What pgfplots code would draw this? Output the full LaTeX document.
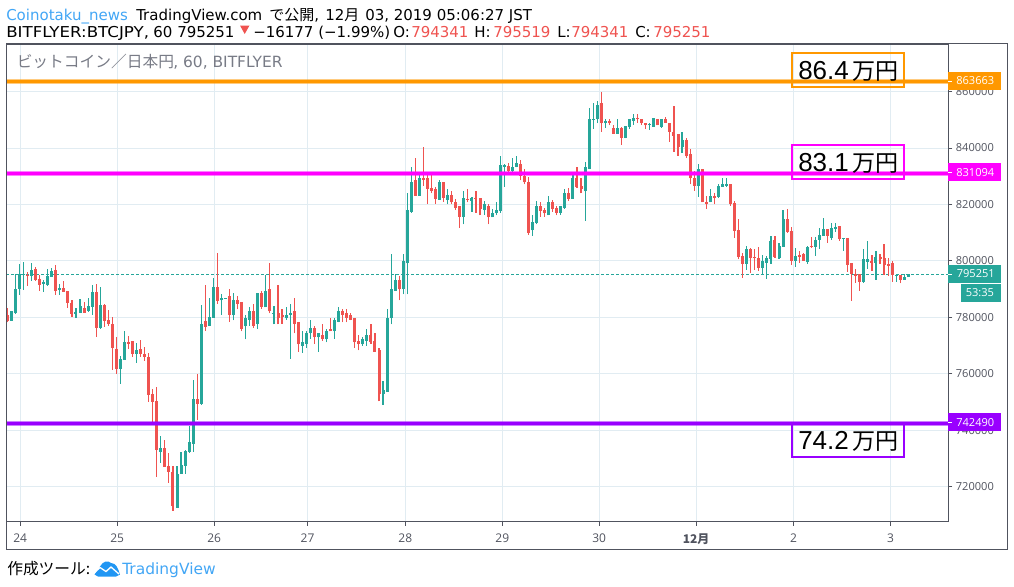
\documentclass[border=0pt]{standalone}
\usepackage{pgfplots}
\usepackage{pgfplotstable}
\pgfplotsset{compat=1.18}
\usepackage{fontspec}
\setmainfont{DejaVu Sans}
\newfontfamily\cjk{Noto Sans CJK JP}
\newfontfamily\tickf{Open Sans}
\newfontfamily\lib{Liberation Sans}
\definecolor{upc}{HTML}{26A69A}
\definecolor{dnc}{HTML}{EF5350}
\definecolor{gridc}{HTML}{E1ECF2}
\definecolor{framec}{HTML}{50535E}
\definecolor{orangec}{HTML}{FF9800}
\definecolor{magc}{HTML}{FF00FF}
\definecolor{purc}{HTML}{9900FF}
\definecolor{tvblue}{HTML}{2196F3}
\definecolor{titlec}{HTML}{787B86}
\newcommand{\fs}[1]{\fontsize{#1}{#1}\selectfont}
\pgfplotstableread{
n o h l c
1 778800 782400 778800 782400
2 781600 795300 781300 790200
3 790200 799000 788000 795500
4 794900 799700 789800 795500
6 794800 799400 793000 796900
9 791900 793300 789100 792600
10 791600 797200 791200 794800
11 794400 797600 794400 796500
13 789800 791900 788000 790500
17 781300 783400 779900 782000
18 781600 786600 781600 784100
20 782400 787000 782000 784100
21 783800 791600 780900 789100
23 776300 790900 776000 784500
28 761800 766400 756500 765300
29 765000 775300 765000 771400
32 767100 771000 763900 768500
38 732400 738100 728500 733800
42 712600 727400 712600 724600
43 724600 732400 724600 727800
44 727400 733100 724600 732800
45 732400 741600 732000 735900
46 735200 757900 732400 751200
48 749400 784500 749000 777800
50 777000 787000 777000 780200
51 779900 794000 779900 790900
53 786000 788400 781000 787000
54 786700 787000 786700 787000
56 781000 788800 778900 786000
59 776800 781000 772200 779600
60 779200 783800 777100 782100
62 777800 788800 776000 788800
64 783500 795100 783500 789500
66 781400 784200 777500 781700
69 779600 783800 779200 780700
70 781000 784900 765400 781700
73 770000 775000 767500 771400
74 770700 775300 769300 774300
75 774300 778900 772500 776400
77 772900 774600 767900 774600
79 772200 775700 771100 775300
81 775000 779600 772500 778900
82 778500 783500 778200 782100
88 770400 772900 770000 772500
89 771800 775700 770000 773900
93 752700 757600 749100 754100
94 753700 782800 753700 779900
95 779600 802600 777500 789900
96 789500 795200 789500 793100
98 790200 802300 788100 799800
99 799100 823900 788100 817900
100 817500 833400 817100 828100
102 823100 830900 823100 829500
107 821700 828800 821700 828100
109 821700 825300 820000 823500
113 815700 824600 812900 822400
115 821400 822800 817500 822400
118 818200 821400 816400 820000
120 815400 818500 815400 816800
121 816800 820700 816100 818200
122 817800 837000 817100 834100
123 833400 834500 826300 834100
125 831700 836600 831000 833100
126 833400 837300 833100 834800
130 810800 816400 809000 813900
131 813600 821400 812900 819300
134 816100 823100 816100 820700
137 817100 819300 816400 819300
138 818900 825600 818500 823900
140 822100 830600 822100 829200
143 824600 835200 814300 833100
144 832400 854000 832400 850400
145 850100 855800 846900 850400
146 850100 856800 848700 855400
148 848700 850100 847200 849400
151 845100 850400 845100 847200
153 843700 847900 843400 847900
154 847600 850100 846900 850100
155 849700 851900 848300 850800
159 848200 849000 846500 848400
160 847600 850800 847600 850800
162 847600 850400 847200 850400
167 840200 845800 838400 843000
171 826700 834500 822800 832400
174 820700 825600 820700 823100
176 822800 827400 822400 826700
177 826300 829500 826300 827100
178 826700 829200 826300 827400
183 799000 805400 796900 804300
187 797600 802200 795500 800100
188 799400 801900 793700 801200
189 800800 809000 799000 807200
191 801200 806500 800800 805400
192 805100 818200 805100 815000
195 800100 804700 798000 801900
198 799700 805400 799000 805100
200 805100 808600 801900 807500
201 807500 811800 804300 809300
202 809000 815300 809000 811400
204 808200 813600 807500 811800
205 811400 813600 810400 812100
207 807900 808200 803600 808200
212 792700 804300 792300 800800
213 799700 807200 797300 800500
215 799400 803600 793400 801500
220 794900 795100 792700 795100
222 793400 795500 793400 794400
223 794300 795500 794300 795250
}\upT
\pgfplotstableread{
n o h l c
0 780900 783300 778200 778800
5 794900 796200 791200 794800
7 797200 797900 793000 793300
8 793700 795100 789400 791600
12 796900 798700 788000 789400
14 790500 793000 789100 789100
15 789400 789400 783400 785200
16 785200 786300 780200 781300
19 783400 785500 781600 781600
22 789100 791900 773100 776300
24 784500 784800 776700 778800
25 779200 782700 777000 777800
26 777800 780200 761500 769200
27 768900 773100 760000 761800
30 771400 773500 768900 770700
31 771700 771700 766100 767100
33 768900 772100 766100 767100
34 767100 769600 764600 766100
35 766100 767500 750100 752600
36 752900 754700 742000 750100
37 750500 755400 723500 733100
39 733800 736700 727100 727100
40 727400 732000 721400 725300
41 725300 727400 711500 713300
47 751200 760000 743700 749400
49 778800 791600 775300 776700
52 790900 802900 784800 785900
55 787400 790200 778500 781000
57 786000 787700 782800 784900
58 785300 785300 775000 776000
61 782100 784600 776400 777100
63 788800 789200 783100 783800
65 789900 799100 781400 782100
67 781700 791300 777500 779600
68 781000 782800 777800 780300
71 782100 786700 774300 777800
72 778200 778200 767900 770400
76 776400 777100 770700 772900
78 773600 777800 771800 772200
80 775700 779900 775000 775000
83 782100 783100 778200 781000
84 781700 783100 778200 779900
85 781000 781400 778900 779200
86 779600 779900 769300 771100
87 771800 773900 768300 770400
90 773900 777800 770700 771400
91 771800 774300 767900 767900
92 768600 769000 750200 752700
97 793100 794500 786000 789900
101 828800 836600 823100 823100
103 829500 840500 826700 828800
104 829200 830600 820300 825600
105 826000 830600 823900 824900
106 825300 826300 820300 822100
108 828100 828100 821000 822400
110 823500 824900 820000 820700
111 820700 822100 818200 818900
112 819300 819600 811800 815700
114 822100 825600 820700 821700
116 822400 824900 817100 822100
117 822400 822400 816100 818500
119 819600 820000 812900 815400
124 833800 834800 831000 831700
127 834500 835900 828500 830200
128 830200 832700 827100 827800
129 828100 829900 809300 810000
132 819300 820700 815700 817800
133 818200 818900 815700 816800
135 820700 821700 817500 818500
136 818900 819600 816100 817100
139 823900 826000 821400 822100
141 829500 833100 826000 826300
142 826700 829200 823900 825600
147 855800 860000 845800 848700
149 849400 850400 848000 848700
150 847200 848300 845100 845100
152 847200 847600 841200 843700
156 850800 852200 849000 850100
157 850100 850400 848300 848700
158 849000 849000 846900 848000
161 850400 850400 848000 848000
163 850400 851100 849000 849000
164 849000 849000 842300 845800
165 845800 855000 838700 844400
166 844800 845100 837300 840200
168 843000 843700 836600 837000
169 837700 839500 827100 829200
170 829500 832000 824900 826700
172 832700 832700 820700 820700
173 821000 823100 818500 820000
175 823100 823900 820000 822400
179 827400 827400 819600 820000
180 820600 821400 808200 810700
181 811100 815000 800500 801500
182 801900 802900 794100 799000
184 804300 804700 795800 801200
185 801500 804300 796900 801200
186 801200 805100 796600 797600
190 807500 809000 801200 801500
193 815000 818500 810000 810400
194 810700 812100 798700 800100
196 802200 803600 799400 801500
197 802600 802900 800100 800100
199 805400 808600 804700 805100
203 811400 811400 806500 809000
206 812500 812500 807200 807900
208 808200 808200 796200 798700
209 799400 799400 785900 795500
210 795500 797300 792300 794800
211 795500 795500 789500 792700
214 800100 802200 796600 799400
216 801500 802600 799000 800800
217 801200 806100 795100 798700
218 799000 801200 794800 798300
219 799400 800100 792700 795100
221 795100 795100 792000 793400
}\dnT
\begin{document}
\begin{tikzpicture}
\path[use as bounding box] (0pt,0pt) rectangle (760.5pt,-439.5pt);
\begin{axis}[
  at={(4.725pt,-391.2pt)}, anchor=south west,
  scale only axis, width=706.5pt, height=358.125pt,
  xmin=-0.25, xmax=232.9, ymin=707635, ymax=876812,
  scaled y ticks=false,
  axis line style={color=framec, line width=0.9pt},
  tick style={color=framec, line width=0.75pt},
  major tick length=3pt, tick align=outside,
  xtick pos=bottom, ytick pos=right, yticklabel pos=right,
  grid=major, grid style={color=gridc, line width=0.75pt},
  xtick={3.2,27.2,51.2,74.3,98.5,122.5,146.5,170.5,194.6,218.6},
  xticklabels={24,25,26,27,28,29,30,{\cjk\bfseries 12月},2,3},
  ytick={720000,740000,760000,780000,800000,820000,840000,860000},
  yticklabels={720000,740000,760000,780000,800000,820000,840000,860000},
  xticklabel style={font=\tickf\fs{9pt}, text=framec, inner sep=0pt, yshift=-6pt},
  yticklabel style={font=\tickf\fs{8.3pt}, text=framec, inner sep=0pt, xshift=2.5pt},
]
\addplot[color=upc, line width=0.9pt, dash pattern=on 2.25pt off 1.5pt, forget plot] coordinates {(-0.25,795251)(232.9,795251)};
% wicks
\addplot[mark=none, draw=none, forget plot, error bars/.cd, y dir=plus, y explicit, error mark=none, error bar style={line width=0.85pt, color=upc}] table[x=n, y=l, y error plus expr=\thisrow{h}-\thisrow{l}] {\upT};
\addplot[mark=none, draw=none, forget plot, error bars/.cd, y dir=plus, y explicit, error mark=none, error bar style={line width=0.85pt, color=dnc}] table[x=n, y=l, y error plus expr=\thisrow{h}-\thisrow{l}] {\dnT};
% bodies
\addplot[mark=none, draw=none, forget plot, error bars/.cd, y dir=plus, y explicit, error mark=none, error bar style={line width=2.25pt, color=upc}] table[x=n, y=o, y error plus expr=\thisrow{c}-\thisrow{o}] {\upT};
\addplot[mark=none, draw=none, forget plot, error bars/.cd, y dir=plus, y explicit, error mark=none, error bar style={line width=2.25pt, color=dnc}] table[x=n, y=c, y error plus expr=\thisrow{o}-\thisrow{c}] {\dnT};
% level lines
\addplot[color=orangec, line width=3.75pt, opacity=0.5, forget plot] coordinates {(-0.25,863663)(232.9,863663)};
\addplot[color=orangec, line width=2.25pt, forget plot] coordinates {(-0.25,863663)(232.9,863663)};
\addplot[color=magc, line width=3.75pt, opacity=0.5, forget plot] coordinates {(-0.25,831094)(232.9,831094)};
\addplot[color=magc, line width=2.25pt, forget plot] coordinates {(-0.25,831094)(232.9,831094)};
\addplot[color=purc, line width=3.75pt, opacity=0.5, forget plot] coordinates {(-0.25,742490)(232.9,742490)};
\addplot[color=purc, line width=2.25pt, forget plot] coordinates {(-0.25,742490)(232.9,742490)};
\end{axis}
\begin{scope}[x=0.75pt,y=-0.75pt]
% outer frame
\draw[color=framec, line width=0.9pt] (6.3,43.5) rectangle (1007.3,549.3);
% header
\tikzset{t/.style={anchor=base west, inner sep=0pt, text=black}}
\node[t, text=tvblue!85!white] at (6,20.5) {\fs{11.25pt}Coinotaku\_news};
\node[t] at (136,20.5) {\fs{11.25pt}TradingView.com};
\node[t] at (269,20.5) {\fs{11.25pt}{\cjk\fs{11.25pt}で公開},};
\node[t] at (325,20.5) {\fs{11.25pt}12{\cjk\fs{11.25pt}月}};
\node[t] at (365,20.5) {\fs{11.25pt}03, 2019 05:06:27 JST};
\node[t] at (6,37) {\fs{11.25pt}\scalebox{1.11}[1]{BITFLYER:BTCJPY,}};
\node[t] at (153,37) {\fs{11.25pt}60};
\node[t] at (177,37) {\fs{11.25pt}795251};
\fill[color=dnc] (240,25.5) -- (249.5,25.5) -- (244.7,34) -- cycle;
\node[t] at (253,37) {\fs{11.25pt}−16177 (−1.99\%)};
\node[t] at (393,37) {\fs{11.25pt}O:};
\node[t, text=dnc] at (411,37) {\fs{11.25pt}794341};
\node[t] at (474,37) {\fs{11.25pt}H:};
\node[t, text=dnc] at (493,37) {\fs{11.25pt}795519};
\node[t] at (557,37) {\fs{11.25pt}L:};
\node[t, text=dnc] at (571,37) {\fs{11.25pt}794341};
\node[t] at (635,37) {\fs{11.25pt}C:};
\node[t, text=dnc] at (653,37) {\fs{11.25pt}795251};
% chart title
\node[t, text=titlec] at (16.5,67.5) {\cjk\fs{11.8pt}ビットコイン／日本円};
\node[t, text=titlec] at (173,67.5) {\fs{11.6pt}, 60, BITFLYER};
% annotation boxes
\tikzset{bx/.style={line width=1.5pt}, lab/.style={anchor=base west, inner sep=0pt, text=black}}
\draw[bx, color=orangec] (792,53) rectangle (904,87);
\draw[bx, color=magc] (792,145) rectangle (904,179);
\draw[bx, color=purc] (792,424) rectangle (904,457);
\node[lab] at (798,79) {\lib\fs{19.5pt}86.4};
\node[lab] at (852,79) {\cjk\fs{17.3pt}万円};
\node[lab] at (798,171) {\lib\fs{19.5pt}83.1};
\node[lab] at (852,171) {\cjk\fs{17.3pt}万円};
\node[lab] at (798,449) {\lib\fs{19.5pt}74.2};
\node[lab] at (852,449) {\cjk\fs{17.3pt}万円};
% price tags
\tikzset{tag/.style={anchor=west, inner sep=0pt, text=white, font=\tickf\fs{8.3pt}}}
\fill[orangec] (948.3,72) rectangle (1001,90);
\draw[white, line width=0.75pt] (948.3,81) -- (952.3,81);
\node[tag] at (956,81) {863663};
\fill[magc] (948.3,163) rectangle (1001,181);
\draw[white, line width=0.75pt] (948.3,172.5) -- (952.3,172.5);
\node[tag] at (956,172.5) {831094};
\fill[upc] (948.3,265) rectangle (1001,283);
\draw[white, line width=0.75pt] (948.3,274) -- (952.3,274);
\node[tag] at (956.5,274) {795251};
\fill[upc] (961,284) rectangle (1001,302);
\node[tag] at (965.5,293) {53:35};
\fill[purc] (948.3,413) rectangle (1001,431);
\draw[white, line width=0.75pt] (948.3,422.5) -- (952.3,422.5);
\node[tag] at (956,422.5) {742490};
% footer
\node[t] at (7,574) {\cjk\fs{11.8pt}作成ツール:};
\fill[tvblue] (94.5,574.5) -- (100,566.5) .. controls (103,561) and (108,560) .. (111,563) .. controls (116,563) and (118,568) .. (120,574.5) -- (116,576.5) -- (98,576.5) -- cycle;
\draw[white, line width=1pt] (94,573) -- (100,567.5) -- (106,571.5) -- (111,567) -- (119,574);
\node[t, text=tvblue!85!white] at (122,574) {\fs{11.6pt}TradingView};
\end{scope}
\end{tikzpicture}
\end{document}
